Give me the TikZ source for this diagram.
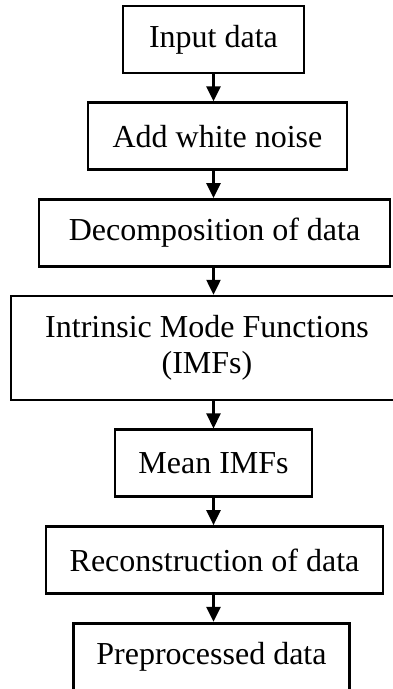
\documentclass[tikz,border=0pt]{standalone}
\usepackage{fontspec}
\setmainfont{Liberation Serif}
\usetikzlibrary{arrows.meta, positioning}

\begin{document}
\begin{tikzpicture}[x=1pt, y=1pt, node distance=27pt,
  box/.style={draw, line width=2.7pt, minimum height=67pt, inner sep=0pt,
    align=center, font=\fontsize{32}{36}\selectfont},
  flow/.style={line width=2.5pt, -{Triangle[length=15pt, width=14pt]}}]
\useasboundingbox (0,0) rectangle (393,-689);
% Steps
\node (Input) [box, minimum width=181pt] at (213.5,-39.5) {Input data};
\node (Noise) [box, below=of Input, xshift=4pt, minimum width=259pt] {Add white noise};
\node (Decomp) [box, below=of Noise, xshift=-3pt, minimum width=351pt] {Decomposition of data};
\node (IMF) [box, below=of Decomp, xshift=-7.5pt, minimum width=392pt, minimum height=104pt] {Intrinsic Mode Functions\\(IMFs)};
\node (Mean) [box, below=of IMF, xshift=6.5pt, minimum width=197pt] {Mean IMFs};
\node (Recon) [box, below=of Mean, xshift=1pt, minimum width=337pt] {Reconstruction of data};
\node (Prep) [box, below=of Recon, xshift=-3pt, minimum width=276pt] {Preprocessed data};

% Arrows
\draw[flow] (Input.south) -- (Noise.north -| Input);
\draw[flow] (Noise.south -| Input) -- (Decomp.north -| Input);
\draw[flow] (Decomp.south -| Input) -- (IMF.north -| Input);
\draw[flow] (IMF.south -| Input) -- (Mean.north -| Input);
\draw[flow] (Mean.south -| Input) -- (Recon.north -| Input);
\draw[flow] (Recon.south -| Input) -- (Prep.north -| Input);
\end{tikzpicture}
\end{document}
